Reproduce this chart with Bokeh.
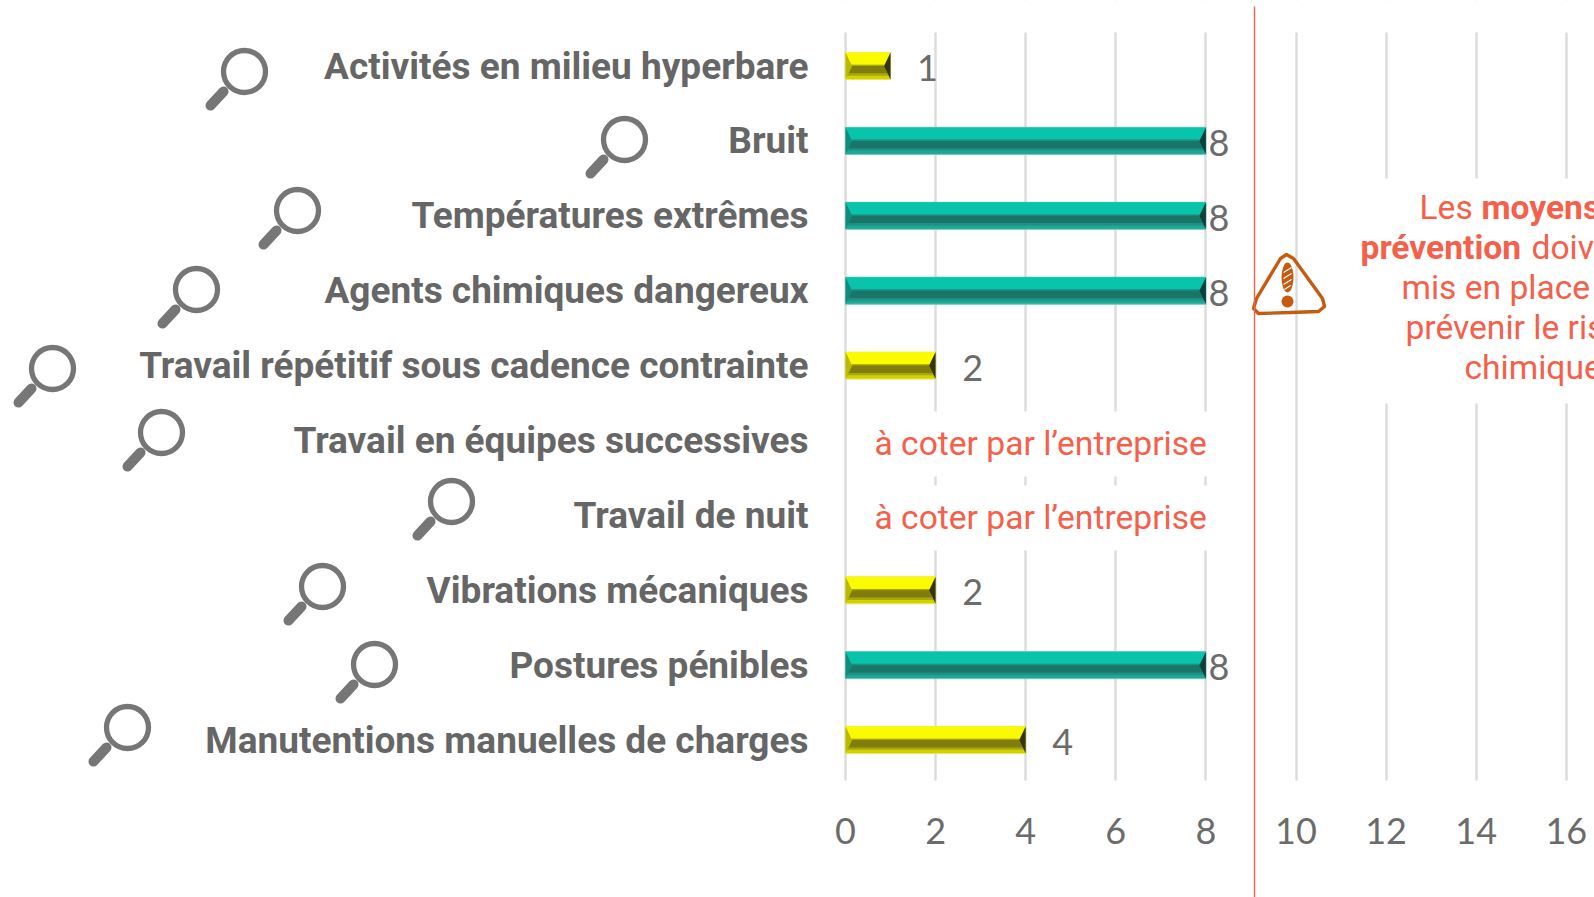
from bokeh.plotting import figure
from bokeh.models import Range1d, LinearAxis, FixedTicker, Grid
from bokeh.core.properties import value
from bokeh.embed import file_html
from bokeh.resources import INLINE

categories = ["Activités en milieu hyperbare", "Bruit", "Températures extrêmes",
              "Agents chimiques dangereux", "Travail répétitif sous cadence contrainte",
              "Travail en équipes successives", "Travail de nuit", "Vibrations mécaniques",
              "Postures pénibles", "Manutentions manuelles de charges"]
values = [1, 8, 8, 8, 2, None, None, 2, 8, 4]
levels = ["y", "t", "t", "t", "y", None, None, "y", "t", "y"]
x_ticks = [0, 2, 4, 6, 8, 10, 12, 14, 16]
not_rated_text = "à coter par l’entreprise"

W, H = 1594, 897
X0, XU = 845.0, 45.05     # page px of value 0, px per unit
Y0, YU = 65.5, 74.9       # page px of row 0, px per row
TOP, BOTTOM = 32.0, 780.0
def px(v): return (v - X0) / XU
def py(v): return (v - Y0) / YU

GRAY = "#666666"
RED = "#F4604A"
LABEL_FONT = "Roboto"
palette = {
    "y": dict(base="#D2D200", top="#FBFB00", low="#807C10", mid="#A8A808", left="#B9B900", right="#35350A", edge="#E8E860"),
    "t": dict(base="#1FA795", top="#07C4AA", low="#1B7468", mid="#1A9183", left="#128B7C", right="#0B3F39", edge="#6CCABC"),
}

p = figure(width=W, height=H, output_backend="svg", toolbar_location=None,
           x_range=Range1d(px(0), px(W)), y_range=Range1d(py(H), py(0)),
           x_axis_location=None, y_axis_location=None,
           min_border=0, outline_line_color=None)

xaxis = LinearAxis(ticker=FixedTicker(ticks=x_ticks), axis_line_color=None, major_tick_line_color=None,
                   minor_tick_line_color=None, major_label_standoff=31, fixed_location=py(BOTTOM),
                   major_label_text_font="Lato", major_label_text_font_size="36px",
                   major_label_text_color="#6b6b6b")
p.add_layout(xaxis, "below")
yaxis = LinearAxis(ticker=FixedTicker(ticks=list(range(len(categories)))), axis_line_color=None,
                   major_tick_line_color=None, minor_tick_line_color=None, fixed_location=0,
                   major_label_standoff=31, major_label_text_font=LABEL_FONT,
                   major_label_text_font_style="bold", major_label_text_font_size="37px",
                   major_label_text_color=GRAY,
                   major_label_overrides={i: c for i, c in enumerate(categories)})
p.add_layout(yaxis, "left")

p.grid.visible = False
p.add_layout(Grid(dimension=0, ticker=FixedTicker(ticks=x_ticks), grid_line_color="#dcdcdc", grid_line_width=2.4))

# white boxes: gridlines only run over the plot band, and stop behind the pasted text
p.quad(left=[px(0), px(0), px(849), px(849), px(1330)], right=[px(W), px(W), px(1216), px(1216), px(W)],
       top=[py(0), py(BOTTOM), py(411), py(485), py(178)], bottom=[py(TOP), py(H), py(476), py(550), py(403)],
       fill_color="white", line_color=None)

# bevelled bars
rows = [(i, v, palette[l]) for i, (v, l) in enumerate(zip(values, levels)) if v is not None]
BH = 27 / YU
DX = 6.5 / XU
for i, v, c in rows:
    t, b, m = i - BH / 2, i + BH / 2, i
    p.hbar(y=[i], left=[0], right=[v], height=[BH], fill_color=c["base"], line_color=c["edge"], line_width=1)
    p.patch([0, v, v - DX * .9, DX * .9], [t, t, m - BH * .05, m - BH * .05], fill_color=c["top"], line_color=None)
    p.patch([DX, v - DX, v - DX * .15, DX * .15], [m - BH * .05, m - BH * .05, m + BH * .36, m + BH * .36], fill_color=c["mid"], line_color=None)
    p.patch([DX, v - DX, v - DX * .5, DX * .5], [m, m, m + BH * .27, m + BH * .27], fill_color=c["low"], line_color=None)
    p.patch([0, DX, 0], [t, m, b], fill_color=c["left"], line_color=None)
    p.patch([v, v - DX, v], [t, m, b], fill_color=c["right"], line_color=None)

# data labels
shown = [(i, v) for i, v in enumerate(values) if v is not None]
p.text(x=[v for _, v in shown], y=[i for i, _ in shown], text=[str(v) for _, v in shown],
       x_offset=[13 if v == 8 else 37 for _, v in shown], y_offset=[2] * len(shown),
       text_align="center", text_baseline="middle", text_font=value("Lato"),
       text_font_size="36px", text_color="#6b6b6b")

# "à coter" notes
nr = [i for i, v in enumerate(values) if v is None]
p.text(x=[px(874)] * len(nr), y=[py(443), py(517)], text=[not_rated_text] * len(nr),
       text_baseline="alphabetic", text_font=value(LABEL_FONT), text_font_size="33.6px", text_color=RED)

# side note
note_normal = [("Les", 1419, 207), ("doivent être", 1531, 247), ("mis en place pour", 1401, 287),
               ("prévenir le risque", 1405, 327), ("chimique.", 1464, 367)]
note_bold = [("moyens de", 1481, 207), ("prévention", 1360, 247)]
p.text(x=[px(a[1]) for a in note_normal], y=[py(a[2]) for a in note_normal], text=[a[0] for a in note_normal],
       text_baseline="alphabetic", text_font=value(LABEL_FONT), text_font_size="33.6px", text_color=RED)
p.text(x=[px(a[1]) for a in note_bold], y=[py(a[2]) for a in note_bold], text=[a[0] for a in note_bold],
       text_baseline="alphabetic", text_font=value(LABEL_FONT), text_font_style="bold", text_font_size="33.6px", text_color=RED)

# magnifiers
icons = [(244, 71), (624, 139), (297, 210), (196, 289), (52, 368), (161, 432), (451, 501), (322, 586), (374, 664), (127, 727)]
MAG = "#767676"
p.scatter(x=[px(a) for a, _ in icons], y=[py(b) for _, b in icons], marker="circle", size=42,
          fill_color=None, line_color=MAG, line_width=5.3)
p.segment(x0=[px(a - 21) for a, _ in icons], y0=[py(b + 20) for _, b in icons],
          x1=[px(a - 34) for a, _ in icons], y1=[py(b + 34) for _, b in icons],
          line_color=MAG, line_width=10, line_cap="round")

# warning sign
BROWN = "#C55A11"
tri = [(1280, 258), (1286, 254), (1293, 258), (1322, 298), (1324, 306), (1318, 311), (1290, 312), (1258, 313), (1253, 308), (1256, 298)]
p.patch([px(a) for a, _ in tri], [py(b) for _, b in tri], fill_color=None, line_color=BROWN, line_width=3.4, line_join="round")
p.ellipse(x=[px(1287)], y=[py(277)], width=[12], height=[30], width_units="screen", height_units="screen",
          fill_color=BROWN, line_color=None)
p.scatter(x=[px(1287)], y=[py(301)], marker="circle", size=12, fill_color=BROWN, line_color=None)
p.segment(x0=[px(a) for a in (1283, 1283, 1283, 1284)], y0=[py(b) for b in (272, 278, 284, 289)],
          x1=[px(a) for a in (1291, 1291, 1291, 1290)], y1=[py(b) for b in (267, 273, 279, 285)],
          line_color="white", line_width=1.2)

# red separator, full page height
p.segment(x0=[px(1254)], y0=[py(6)], x1=[px(1254)], y1=[py(H)], line_color=RED, line_width=1.4)

open("out.html", "w").write(file_html(p, INLINE))
